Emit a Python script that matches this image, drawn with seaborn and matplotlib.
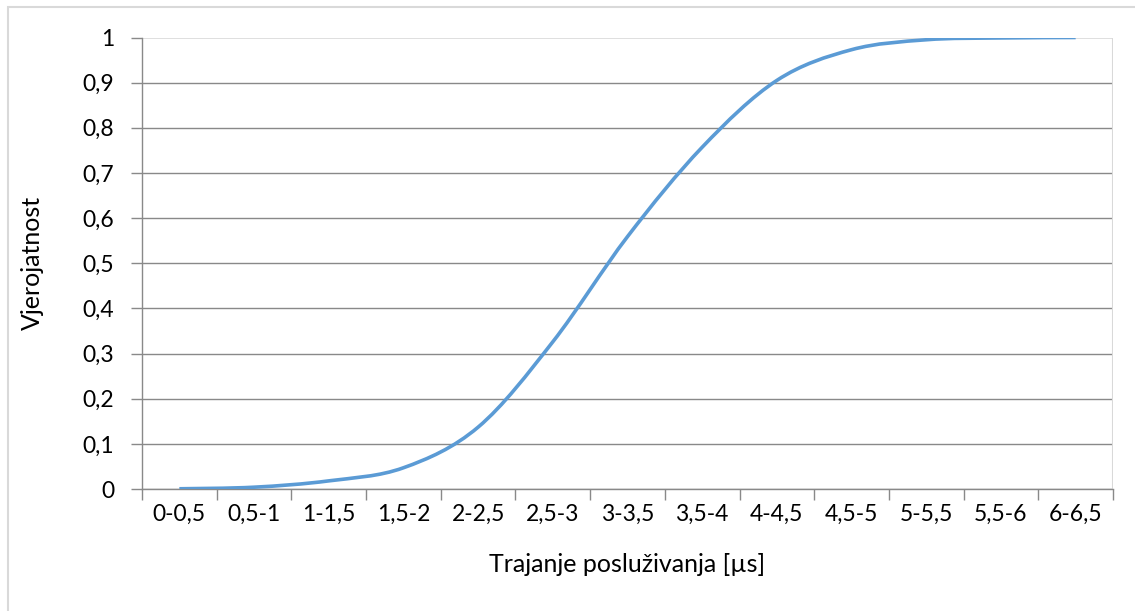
import numpy as np
import pandas as pd
import matplotlib
matplotlib.use('Agg')
import matplotlib.pyplot as plt
import seaborn as sns
from matplotlib.path import Path
from matplotlib.patches import PathPatch, Rectangle

# podaci ocitani s grafa
intervali = ['0-0,5', '0,5-1', '1-1,5', '1,5-2', '2-2,5', '2,5-3', '3-3,5',
             '3,5-4', '4-4,5', '4,5-5', '5-5,5', '5,5-6', '6-6,5']
vjerojatnost = [0.0005, 0.004, 0.018, 0.047, 0.137, 0.326, 0.559,
                0.757, 0.905, 0.973, 0.995, 0.999, 1.0]
y_ticks = [0, 0.1, 0.2, 0.3, 0.4, 0.5, 0.6, 0.7, 0.8, 0.9, 1]
y_labels = ['0', '0,1', '0,2', '0,3', '0,4', '0,5', '0,6', '0,7', '0,8', '0,9', '1']

# boje
BLUE = '#5B9BD5'
GRID = '#898989'
LIGHT = '#D9D9D9'
TEXT = '#000000'
FS = 16.5
FS_LAB = 18

sns.set_style('white')
plt.rcParams['font.family'] = ['Lato', 'DejaVu Sans']

W, H = 1135, 611
fig = plt.figure(figsize=(W / 100, H / 100), dpi=100)
ax = fig.add_axes([142 / W, 1 - 489 / H, (1113 - 142) / W, (489 - 37.5) / H])

df = pd.DataFrame({'poz': np.arange(len(intervali)), 'p': vjerojatnost})
sns.lineplot(x='poz', y='p', data=df, ax=ax, color=BLUE, linewidth=2.6)

# zagladjivanje linije kao u Excelu (Bezier kroz tocke)
line = ax.lines[0]
xs, ys = line.get_xdata(), line.get_ydata()
pts = np.column_stack([xs, ys])
verts = [pts[0]]
codes = [Path.MOVETO]
for i in range(len(pts) - 1):
    p0 = pts[i - 1] if i > 0 else pts[i]
    p1, p2 = pts[i], pts[i + 1]
    p3 = pts[i + 2] if i + 2 < len(pts) else pts[i + 1]
    c1 = p1 + (p2 - p0) / 6
    c2 = p2 - (p3 - p1) / 6
    verts += [c1, c2, p2]
    codes += [Path.CURVE4] * 3
line.set_visible(False)
ax.add_patch(PathPatch(Path(verts, codes), facecolor='none', edgecolor=BLUE,
                       linewidth=2.6, capstyle='butt', zorder=3))

ax.set_xlim(-0.5, len(intervali) - 0.5)
ax.set_ylim(0, 1)

ax.set_yticks(y_ticks)
ax.set_yticklabels(y_labels)
for y in y_ticks[:-1]:
    ax.axhline(y, color=GRID, linewidth=1, zorder=1)
ax.axhline(1, color=LIGHT, linewidth=1.2, zorder=1)

ax.set_xticks(np.arange(-0.5, len(intervali), 1.0))
ax.set_xticklabels([])
ax.set_xticks(np.arange(len(intervali)), minor=True)
ax.set_xticklabels(intervali, minor=True)

ax.tick_params(axis='x', which='major', direction='out', length=8, width=1,
               color=GRID, bottom=True)
ax.tick_params(axis='x', which='minor', length=0, pad=11, labelsize=FS,
               labelcolor=TEXT)
ax.tick_params(axis='y', direction='out', length=8, width=1, color=GRID,
               left=True, pad=12, labelsize=FS, labelcolor=TEXT)

for s in ['top', 'right']:
    ax.spines[s].set_visible(False)
ax.spines['left'].set_color(GRID)
ax.spines['bottom'].set_color(GRID)
ax.spines['left'].set_linewidth(1)
ax.spines['bottom'].set_linewidth(1)
ax.axvline(len(intervali) - 0.5, color=LIGHT, linewidth=1.5, zorder=1)

ax.set_xlabel('Trajanje posluživanja [µs]', fontsize=FS_LAB, color=TEXT)
ax.set_ylabel('Vjerojatnost', fontsize=FS_LAB, color=TEXT)
ax.xaxis.set_label_coords((627 - 142) / 970, (489 - 564) / 451.5)
ax.xaxis.label.set_va('center')
ax.yaxis.set_label_coords((33 - 142) / 970, (489 - 263) / 451.5)
ax.yaxis.label.set_va('center')

# okvir grafikona
fig.patches.append(Rectangle((8 / W, -0.1), 1.2, 1 - 7 / H + 0.1,
                             transform=fig.transFigure, fill=False,
                             edgecolor=LIGHT, linewidth=1.5))

fig.savefig('out.png', dpi=100)
